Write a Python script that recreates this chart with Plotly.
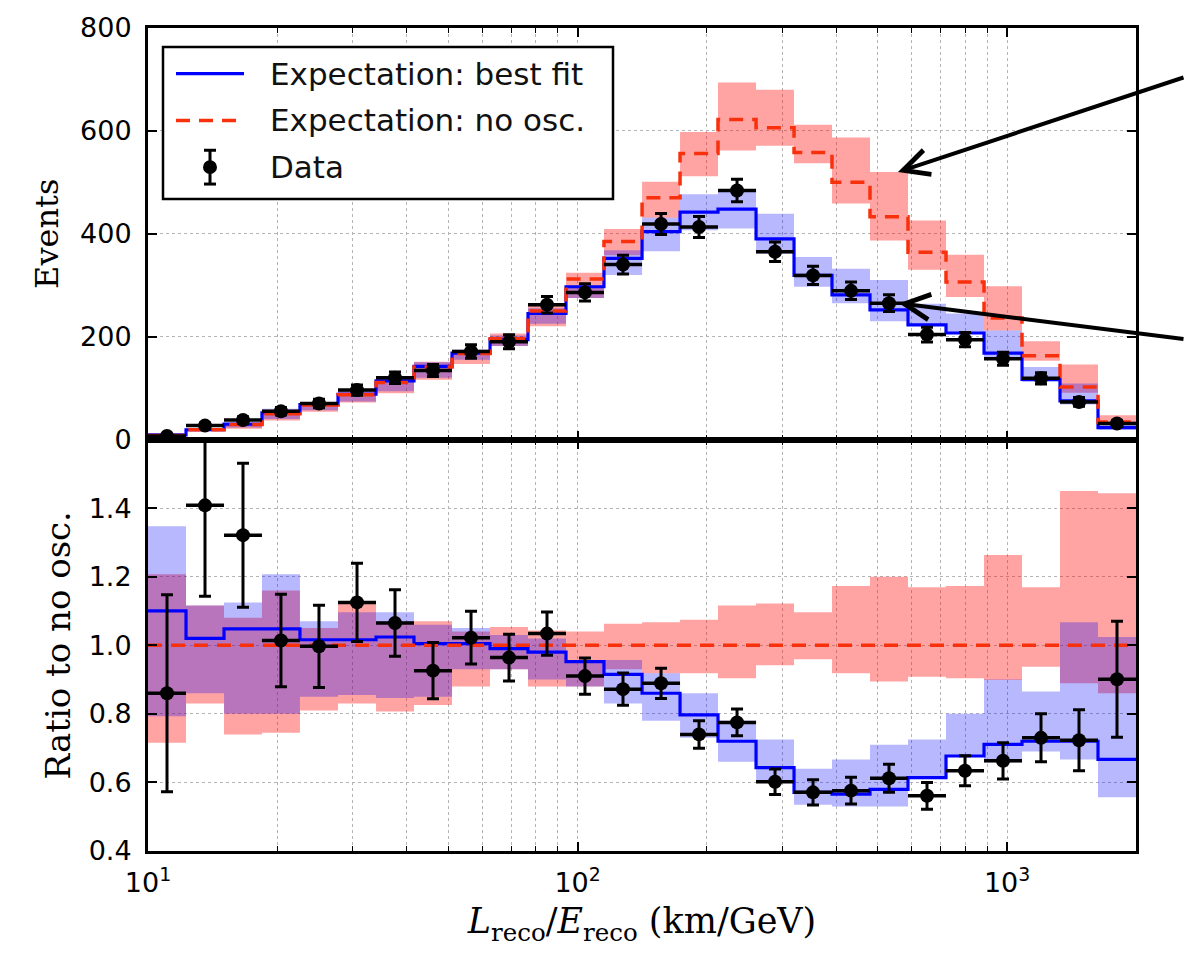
import numpy as np
import plotly.graph_objects as go
from plotly.subplots import make_subplots

# ---------------- data ----------------
bin_edges = [10.0, 12.26, 15.03, 18.42, 22.58, 27.69, 33.95, 41.61, 51.02, 62.55,
             76.67, 93.99, 115.2, 141.3, 173.2, 212.3, 260.3, 319.1, 391.1, 479.5,
             587.8, 720.6, 883.5, 1083.0, 1327.6, 1627.6, 1995.3]

events_data = [7, 27, 38, 55, 70, 96, 120, 134, 171, 190, 262, 286, 340, 419, 413, 484,
               365, 319, 289, 265, 204, 194, 157, 119, 73, 31]
events_data_err = [2.6, 5.2, 6.2, 7.4, 8.4, 9.8, 11, 11.6, 13.1, 13.8, 16.2, 16.9, 18.4,
                   20.5, 20.3, 22, 19.1, 17.9, 17, 16.3, 14.3, 13.9, 12.5, 10.9, 8.5, 5.6]

events_bestfit = [9, 19, 30, 52, 68, 88, 114, 142, 168, 194, 245, 297, 352, 404, 442, 448,
                  390, 319, 281, 252, 223, 207, 168, 117, 75, 23]
events_bestfit_lo = [6.3, 16.3, 23.2, 40, 57, 74, 94, 120, 155, 182, 225, 275, 320, 366, 407,
                     410, 361, 297, 265, 230, 222, 207, 155, 112, 68, 19]
events_bestfit_hi = [10.8, 21.2, 32.6, 60, 72, 95, 122, 150, 175, 202, 255, 299, 368, 431, 477,
                     487, 439, 355, 332, 310, 264, 245, 212, 141, 109, 35]

events_noosc = [8, 19, 29, 50, 67, 87, 111, 141, 167, 196, 250, 312, 385, 470, 556, 622,
                606, 558, 500, 433, 364, 306, 236, 163, 102, 34]
events_noosc_lo = [5.7, 16, 21, 37, 54, 72, 90, 116, 147, 182, 220, 275, 358, 431, 512, 562,
                   571, 537, 459, 387, 330, 277, 212, 153, 91, 29]
events_noosc_hi = [9.7, 21, 31, 58, 70, 97, 119, 151, 174, 206, 261, 324, 409, 501, 598, 694,
                   680, 612, 587, 520, 426, 359, 298, 191, 146, 47]

ratio_bestfit = [1.10, 1.02, 1.048, 1.048, 1.016, 1.016, 1.024, 1.005, 1.005, 0.99, 0.98,
                 0.952, 0.915, 0.86, 0.797, 0.72, 0.643, 0.571, 0.566, 0.58, 0.614, 0.677,
                 0.711, 0.72, 0.72, 0.667]
ratio_bestfit_lo = [0.793, 0.86, 0.80, 0.80, 0.85, 0.855, 0.846, 0.85, 0.93, 0.93, 0.90, 0.88,
                    0.83, 0.78, 0.73, 0.66, 0.60, 0.535, 0.53, 0.53, 0.61, 0.677, 0.658, 0.69,
                    0.667, 0.557]
ratio_bestfit_hi = [1.347, 1.116, 1.125, 1.207, 1.07, 1.096, 1.096, 1.06, 1.05, 1.03, 1.02,
                    0.957, 0.957, 0.918, 0.86, 0.78, 0.725, 0.64, 0.667, 0.71, 0.725, 0.80,
                    0.90, 0.865, 1.067, 1.024]

ratio_noosc = [1.0] * 26
ratio_noosc_lo = [0.716, 0.83, 0.74, 0.745, 0.81, 0.83, 0.807, 0.826, 0.88, 0.93, 0.88, 0.88,
                  0.93, 0.918, 0.918, 0.904, 0.942, 0.959, 0.918, 0.894, 0.908, 0.904, 0.899,
                  0.937, 0.889, 0.86]
ratio_noosc_hi = [1.207, 1.116, 1.08, 1.16, 1.05, 1.12, 1.07, 1.07, 1.04, 1.053, 1.043, 1.04,
                  1.063, 1.067, 1.074, 1.116, 1.122, 1.096, 1.173, 1.2, 1.169, 1.173, 1.263,
                  1.169, 1.45, 1.443]

ratio_data = [0.86, 1.408, 1.321, 1.014, 0.997, 1.125, 1.065, 0.926, 1.022, 0.964, 1.034, 0.91,
              0.872, 0.889, 0.74, 0.775, 0.602, 0.571, 0.576, 0.612, 0.561, 0.634, 0.663,
              0.73, 0.723, 0.901]
ratio_data_err = [0.287, 0.265, 0.21, 0.135, 0.12, 0.114, 0.097, 0.082, 0.077, 0.068, 0.063,
                  0.053, 0.047, 0.044, 0.04, 0.039, 0.037, 0.037, 0.039, 0.041, 0.039, 0.044,
                  0.053, 0.07, 0.089, 0.169]

x_ticks = [10, 100, 1000]
x_tick_text = ["10<sup>1</sup>", "10<sup>2</sup>", "10<sup>3</sup>"]
x_minor = [20, 30, 40, 50, 60, 70, 80, 90, 200, 300, 400, 500, 600, 700, 800, 900]
events_ticks = [0, 200, 400, 600, 800]
ratio_ticks = [0.4, 0.6, 0.8, 1.0, 1.2, 1.4]
ratio_tick_text = ["0.4", "0.6", "0.8", "1.0", "1.2", "1.4"]

legend_labels = ["Expectation: best fit", "Expectation: no osc.", "Data"]

# ---------------- styling ----------------
W, H = 1184, 966
ML, MR, MT, MB = 148, 48, 23, 115
BLUE = "#0000ff"
RED = "#f8300c"
BLUE_FILL = "rgba(0,0,255,0.28)"
RED_FILL = "rgba(255,0,0,0.36)"
GRID = "#b4b4b4"
SANS = "DejaVu Sans"
SERIF = "DejaVu Serif"

edges = np.array(bin_edges)
centers = np.sqrt(edges[:-1] * edges[1:])
xerr_plus = edges[1:] - centers
xerr_minus = centers - edges[:-1]


def step_xy(vals):
    return list(edges), list(vals) + [vals[-1]]


def band_xy(lo, hi):
    xs, ys = [], []
    for i in range(len(hi)):
        xs += [edges[i], edges[i + 1]]
        ys += [hi[i], hi[i]]
    for i in reversed(range(len(lo))):
        xs += [edges[i + 1], edges[i]]
        ys += [lo[i], lo[i]]
    xs.append(xs[0])
    ys.append(ys[0])
    return xs, ys


def px(x):
    return (x - ML) / (W - ML - MR)


def py(y):
    return (H - MB - y) / (H - MT - MB)


fig = make_subplots(rows=2, cols=1, shared_xaxes=True, vertical_spacing=0)


def add_panel(row, noosc, noosc_lo, noosc_hi, best, best_lo, best_hi, data, data_err):
    bx, by = band_xy(noosc_lo, noosc_hi)
    fig.add_trace(go.Scatter(x=bx, y=by, fill="toself", fillcolor=RED_FILL, mode="lines",
                             line=dict(width=0), hoverinfo="skip", showlegend=False),
                  row=row, col=1)
    bx, by = band_xy(best_lo, best_hi)
    fig.add_trace(go.Scatter(x=bx, y=by, fill="toself", fillcolor=BLUE_FILL, mode="lines",
                             line=dict(width=0), hoverinfo="skip", showlegend=False),
                  row=row, col=1)
    sx, sy = step_xy(best)
    fig.add_trace(go.Scatter(x=sx, y=sy, mode="lines", line=dict(color=BLUE, width=3.2, shape="hv"),
                             showlegend=False), row=row, col=1)
    sx, sy = step_xy(noosc)
    fig.add_trace(go.Scatter(x=sx, y=sy, mode="lines",
                             line=dict(color=RED, width=3.5, shape="hv", dash="14px,9px"),
                             showlegend=False), row=row, col=1)
    fig.add_trace(go.Scatter(
        x=centers, y=data, mode="markers",
        marker=dict(color="black", size=14, symbol="circle"),
        error_y=dict(type="data", array=data_err, color="black", thickness=3, width=6),
        error_x=dict(type="data", array=xerr_plus, arrayminus=xerr_minus, color="black",
                     thickness=3.5, width=0),
        showlegend=False), row=row, col=1)


add_panel(1, events_noosc, events_noosc_lo, events_noosc_hi, events_bestfit,
          events_bestfit_lo, events_bestfit_hi, events_data, events_data_err)
add_panel(2, ratio_noosc, ratio_noosc_lo, ratio_noosc_hi, ratio_bestfit,
          ratio_bestfit_lo, ratio_bestfit_hi, ratio_data, ratio_data_err)

axis_common = dict(showline=True, linewidth=3, linecolor="black", mirror="ticks",
                   ticks="inside", ticklen=9, tickwidth=1.5, tickcolor="black",
                   showgrid=True, gridcolor=GRID, griddash="dot", gridwidth=1,
                   zeroline=False, tickfont=dict(family=SANS, size=27, color="black"))

xaxis_common = dict(axis_common, type="log", range=[1, 3.3], tickvals=x_ticks,
                    ticktext=x_tick_text,
                    minor=dict(tickvals=x_minor, ticks="inside", ticklen=5, tickwidth=1,
                               tickcolor="black", showgrid=True, gridcolor=GRID,
                               griddash="dot", gridwidth=1))

fig.update_xaxes(**xaxis_common, row=1, col=1)
fig.update_xaxes(**xaxis_common, row=2, col=1)
fig.update_xaxes(showticklabels=False, row=1, col=1)
fig.update_xaxes(ticklabelstandoff=6,
                 title=dict(text="<i>L</i><sub>reco</sub>/<i>E</i><sub>reco</sub> (km/GeV)",
                            font=dict(family=SERIF, size=35, color="black"), standoff=12),
                 row=2, col=1)

fig.update_yaxes(**axis_common, row=1, col=1)
fig.update_yaxes(range=[0, 800], tickvals=events_ticks, ticklabelstandoff=8,
                 title=dict(text="Events", font=dict(family=SERIF, size=32, color="black"),
                            standoff=12), row=1, col=1)
fig.update_yaxes(**axis_common, row=2, col=1)
fig.update_yaxes(range=[0.4, 1.6], tickvals=ratio_ticks, ticktext=ratio_tick_text,
                 ticklabelstandoff=8,
                 title=dict(text="Ratio to no osc.", font=dict(family=SERIF, size=34, color="black"),
                            standoff=8), row=2, col=1)

# ---------------- legend (drawn in the upper panel) ----------------
shapes = []
shapes.append(dict(type="rect", xref="paper", yref="paper", x0=px(163), x1=px(613),
                   y0=py(195), y1=py(42), line=dict(color="black", width=2.5),
                   fillcolor="white", layer="above"))
row_y = [69, 116, 163]
shapes.append(dict(type="line", xref="paper", yref="paper", x0=px(176), x1=px(244),
                   y0=py(row_y[0]), y1=py(row_y[0]), line=dict(color=BLUE, width=3.2),
                   layer="above"))
shapes.append(dict(type="line", xref="paper", yref="paper", x0=px(176), x1=px(244),
                   y0=py(row_y[1]), y1=py(row_y[1]), line=dict(color=RED, width=3.5, dash="14px,9px"),
                   layer="above"))
# data symbol: marker with vertical error bar
shapes.append(dict(type="line", xref="paper", yref="paper", x0=px(210), x1=px(210),
                   y0=py(row_y[2] - 17), y1=py(row_y[2] + 17), line=dict(color="black", width=3),
                   layer="above"))
for dy in (-17, 17):
    shapes.append(dict(type="line", xref="paper", yref="paper", x0=px(204), x1=px(216),
                       y0=py(row_y[2] + dy), y1=py(row_y[2] + dy),
                       line=dict(color="black", width=3), layer="above"))
shapes.append(dict(type="circle", xref="paper", yref="paper", x0=px(203), x1=px(217),
                   y0=py(row_y[2] + 7), y1=py(row_y[2] - 7), fillcolor="black",
                   line=dict(color="black", width=0), layer="above"))

annotations = []
for lab, yy in zip(legend_labels, row_y):
    annotations.append(dict(text=lab, xref="paper", yref="paper", x=px(268), y=py(yy),
                            xanchor="left", yanchor="middle", showarrow=False,
                            font=dict(family=SANS, size=31, color="#111111")))

# arrows pointing at the no-osc band and the data point of bin 19
annotations.append(dict(x=np.log10(centers[19]), y=events_noosc_hi[19], xref="x", yref="y",
                        text="", showarrow=True, arrowhead=5, arrowsize=1.25, arrowwidth=4,
                        arrowcolor="black", ax=287, ay=-95, xshift=9, standoff=0))
annotations.append(dict(x=np.log10(centers[19]), y=events_data[19], xref="x", yref="y",
                        text="", showarrow=True, arrowhead=5, arrowsize=1.25, arrowwidth=4,
                        arrowcolor="black", ax=286, ay=36, xshift=10, standoff=0))

fig.update_layout(width=W, height=H, margin=dict(l=ML, r=MR, t=MT, b=MB),
                  paper_bgcolor="white", plot_bgcolor="white", showlegend=False,
                  shapes=shapes, annotations=annotations)

fig.write_html("out.html")
